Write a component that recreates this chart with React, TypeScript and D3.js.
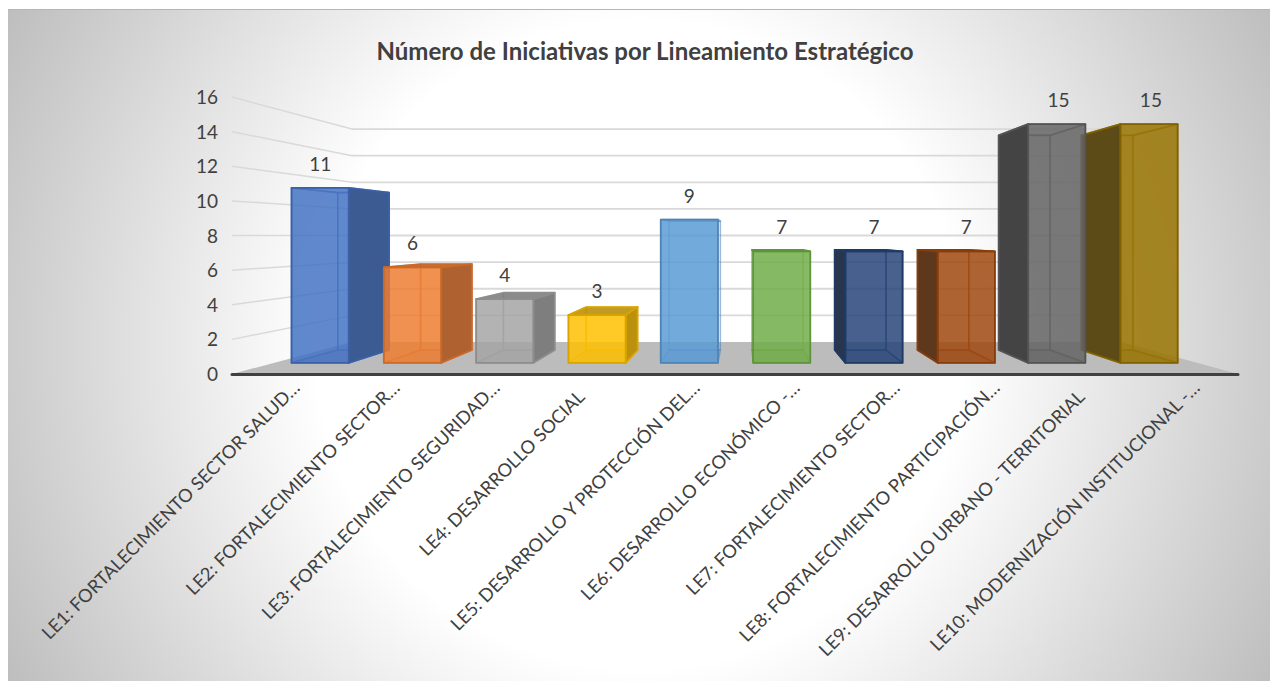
import React from "react";
import * as d3 from "d3";

const categories = [
  "LE1: FORTALECIMIENTO SECTOR SALUD…",
  "LE2: FORTALECIMIENTO SECTOR…",
  "LE3: FORTALECIMIENTO SEGURIDAD…",
  "LE4: DESARROLLO SOCIAL",
  "LE5: DESARROLLO Y PROTECCIÓN DEL…",
  "LE6: DESARROLLO ECONÓMICO -…",
  "LE7: FORTALECIMIENTO SECTOR…",
  "LE8: FORTALECIMIENTO PARTICIPACIÓN…",
  "LE9: DESARROLLO URBANO - TERRITORIAL",
  "LE10: MODERNIZACIÓN INSTITUCIONAL -…",
];
const values = [11, 6, 4, 3, 9, 7, 7, 7, 15, 15];
const colors = ["#4472C4", "#ED7D31", "#A5A5A5", "#FFC000", "#5B9BD5", "#70AD47", "#264478", "#9E480E", "#636363", "#997300"];
const yTicks = [0, 2, 4, 6, 8, 10, 12, 14, 16];
const title = "Número de Iniciativas por Lineamiento Estratégico";

const W = 1270, H = 681;
const FONT = "Lato, 'Open Sans', sans-serif";
const depth = d3.scaleLinear().domain([0, 1]);
const xLeft = depth.copy().range([232, 352]);
const xRight = depth.copy().range([1238, 1121]);
const yFloor = depth.copy().range([374, 342]);
const yUnit = depth.copy().range([17.31, 13.31]);
const project = (u: number, v: number, d: number): [number, number] => {
  const xs = d3.scaleLinear().domain([0, categories.length]).range([xLeft(d), xRight(d)]);
  return [xs(u), yFloor(d) - v * yUnit(d)];
};
const poly = (pts: [number, number][]) => pts.map((p) => p.join(",")).join(" ");

const D_FRONT = 0.35, D_BACK = 0.75, BAR = 0.62;

function Bar({ i }: { i: number }) {
  const v = values[i];
  const c = colors[i];
  const u0 = i + 0.5 - BAR / 2 - 0.01 * (i > 7 ? 2 : 0);
  const u1 = u0 + BAR;
  const f00 = project(u0, 0, D_FRONT), f10 = project(u1, 0, D_FRONT), f01 = project(u0, v, D_FRONT), f11 = project(u1, v, D_FRONT);
  const b00 = project(u0, 0, D_BACK), b10 = project(u1, 0, D_BACK), b01 = project(u0, v, D_BACK), b11 = project(u1, v, D_BACK);
  const edge = d3.color(c)!.darker(0.45).formatHex();
  const rightVisible = b11[0] > f11[0] + 6;
  const leftVisible = b01[0] < f01[0] - 6;
  const dark = d3.interpolateRgb(c, "#2a2a2a")(leftVisible ? 0.55 : 0.32);
  const face = (pts: [number, number][], fill: string, op: number, sOp = 1, sw = 1.8) => (
    <polygon points={poly(pts)} fill={fill} fillOpacity={op} stroke={edge} strokeOpacity={sOp} strokeWidth={sw} strokeLinejoin="round" />
  );
  const topAbove = b01[1] < f01[1];
  return (
    <g>
      {face([b00, b10, b11, b01], c, 0.08, 0.55, 1.5)}
      {face([f00, f10, b10, b00], dark, 0.18, 0.55, 1.5)}
      {rightVisible ? face([f01, b01, b00, f00], c, 0.05, 0.55, 1.5) : null}
      {leftVisible ? face([f11, b11, b10, f10], c, 0.05, 0.55, 1.5) : null}
      {face([f01, f11, b11, b01], dark, topAbove ? 0.9 : 0, topAbove ? 1 : 0.6)}
      {rightVisible && face([f10, b10, b11, f11], dark, 1)}
      {leftVisible && face([f00, b00, b01, f01], dark, 1)}
      {face([f00, f10, f11, f01], c, 0.84)}
    </g>
  );
}

export default function App() {
  const order = d3.range(values.length).sort((a, b) => Math.abs(b - 4.5) - Math.abs(a - 4.5));
  return (
    <svg width={W} height={H} style={{ position: "absolute", left: 0, top: 0, background: "#fff" }} fontFamily={FONT}>
      <defs>
        <radialGradient id="bg" gradientUnits="userSpaceOnUse" cx={640} cy={345} r={720}>
          <stop offset="0.45" stopColor="#ffffff" />
          <stop offset="1" stopColor="#bdbdbd" />
        </radialGradient>
      </defs>
      <rect x={8} y={9} width={W - 8} height={H - 9} fill="url(#bg)" />
      <line x1={8} x2={W} y1={9.5} y2={9.5} stroke="#b5b5b5" strokeWidth={1} />

      <text x={645} y={60} textAnchor="middle" fontSize={24} fontWeight={700} fill="#404040">{title}</text>

      {yTicks.slice(1).map((t) => {
        const a = project(0, t, 0), b = project(0, t, 1), e = project(categories.length, t, 1);
        return (
          <g key={t} stroke="#d9d9d9" fill="none">
            <line x1={a[0]} y1={a[1]} x2={b[0]} y2={b[1]} strokeWidth={1.5} />
            <line x1={b[0]} y1={b[1]} x2={e[0]} y2={e[1]} strokeWidth={1.8} />
          </g>
        );
      })}
      <polygon points={poly([project(0, 0, 0), project(10, 0, 0), project(10, 0, 1), project(0, 0, 1)])} fill="#bcbcbc" />
      {order.map((i) => <Bar key={i} i={i} />)}
      <line x1={232} x2={1238} y1={374.5} y2={374.5} stroke="#404040" strokeWidth={3} strokeLinecap="round" />

      {yTicks.map((t) => (
        <text key={t} x={218} y={project(0, t, 0)[1] + 7} textAnchor="end" fontSize={19} fill="#404040">{t}</text>
      ))}
      {values.map((v, i) => {
        const top = project(i + 0.5, v, D_FRONT);
        return <text key={i} x={top[0]} y={top[1] - 17} textAnchor="middle" fontSize={19} fill="#404040">{v}</text>;
      })}
      {categories.map((c, i) => {
        const full = !c.endsWith("…");
        const x = 301 + i * 100 - (full ? 15 : 0), y = 389 + (full ? 9 : 0);
        return (
          <text key={i} transform={`translate(${x},${y}) rotate(-45)`} textAnchor="end" fontSize={18.3} fill="#404040">{c}</text>
        );
      })}
    </svg>
  );
}
